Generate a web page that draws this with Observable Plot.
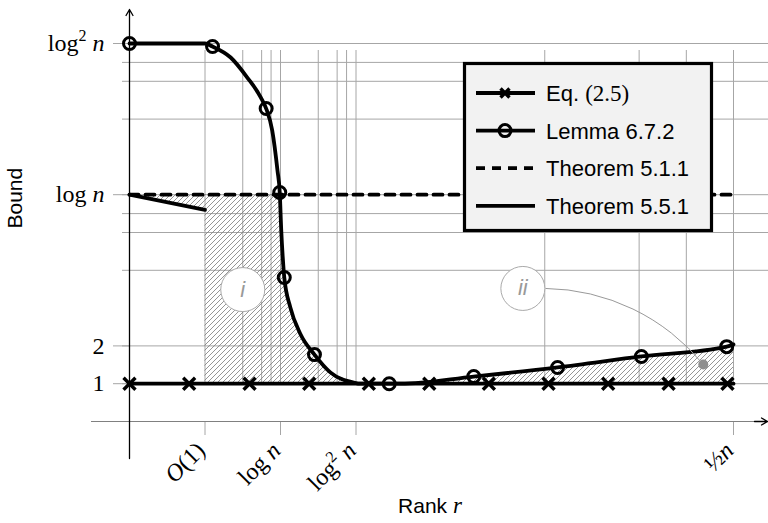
<!DOCTYPE html>
<html><head><meta charset="utf-8">
<script src="https://cdn.jsdelivr.net/npm/d3@7"></script>
<script src="https://cdn.jsdelivr.net/npm/@observablehq/plot@0.6"></script>
<style>body{margin:0;background:#fff;} #chart svg{display:block;}</style>
</head><body><div id="chart"></div>
<script>
// ---- data ----
const xGrid = [1, 1.5, 1.75, 1.875, 2, 2.5, 2.75, 2.875, 3, 5.5, 6.75, 7.375, 8];
const yGrid = [1, 2, 4, 5, 5.5, 6, 8, 9, 9.5, 10];
const xTicks = [1, 2, 3, 8];
const xTickLabels = ["O(1)", "log n", "log² n", "½n"];
const yTicks = [1, 2, 6, 10];
const yTickLabels = ["1", "2", "log n", "log² n"];

// Eq. (2.5)
const eqLineX = [0, 8];
const eqLineY = [1, 1];
const eqMarkX = [0, 0.79, 1.59, 2.38, 3.17, 3.97, 4.76, 5.55, 6.34, 7.14, 7.92];
const eqMarkY = [1, 1, 1, 1, 1, 1, 1, 1, 1, 1, 1];

// Lemma 6.7.2
const lemmaX = [0, 1.0, 1.10, 1.34, 1.56, 1.74, 1.81, 1.89, 1.96, 1.99, 2.01, 2.03, 2.05, 2.13, 2.26, 2.45, 2.66, 2.97, 3.06, 3.44, 3.59, 4.56, 5.67, 6.78, 7.91, 8.0];
const lemmaY = [10, 10, 9.92, 9.63, 9.10, 8.57, 8.28, 7.70, 6.64, 6.06, 5.05, 4.34, 3.81, 3.02, 2.33, 1.77, 1.30, 1.03, 1.0, 1.0, 1.0, 1.19, 1.43, 1.72, 1.98, 2.04];
const lemmaMarkX = [0, 1.10, 1.81, 1.99, 2.05, 2.45, 3.44, 4.56, 5.67, 6.78, 7.91];
const lemmaMarkY = [10, 9.92, 8.28, 6.06, 3.81, 1.77, 1.0, 1.19, 1.43, 1.72, 1.98];

// Theorem 5.1.1 (dashed)
const thm511X = [0, 8];
const thm511Y = [6, 6];
// Theorem 5.5.1 (solid)
const thm551X = [0, 1];
const thm551Y = [6, 5.6];

// annotations
const annX = [1.5, 5.21];
const annY = [3.49, 3.52];
const annLabels = ["i", "ii"];
const annDotX = [7.6];
const annDotY = [1.51];
const connX1 = [5.515], connY1 = [3.52];

// ---- build tables ----
const SERIF = "'Liberation Serif', 'DejaVu Serif', serif";
const SANS = "'Liberation Sans', 'DejaVu Sans', sans-serif";
const GRID = "#a6a6a6";
const LW = 3.8;

const pts = (xs, ys) => xs.map((x, i) => ({x, y: ys[i]}));
const lemma = pts(lemmaX, lemmaY);
const lemmaMarks = pts(lemmaMarkX, lemmaMarkY);
const eqLine = pts(eqLineX, eqLineY);
const eqMarks = pts(eqMarkX, eqMarkY);
const thm511 = pts(thm511X, thm511Y);
const thm551 = pts(thm551X, thm551Y);
const ann = annX.map((x, i) => ({x, y: annY[i], label: annLabels[i]}));
const annDot = pts(annDotX, annDotY);
const conn = [{x1: connX1[0], y1: connY1[0], x2: annDotX[0], y2: annDotY[0]}];

// hatched regions derived from the series
const regionA = thm551.map(d => ({x: d.x, y1: d.y, y2: thm511Y[0]}));
const regionB = [{x: thm551X[1], y1: 1, y2: thm511Y[0]}]
  .concat(lemma.filter(d => d.x >= 1.99 && d.x <= 3.06).map(d => ({x: d.x, y1: 1, y2: Math.min(thm511Y[0], d.y)})));
const regionC = lemma.filter(d => d.x >= 3.44).map(d => ({x: d.x, y1: 1, y2: d.y}));

const xTickData = xTicks.map((v, i) => ({v, label: xTickLabels[i]}));
const yTickData = yTicks.map((v, i) => ({v, label: yTickLabels[i]}));

const plot = Plot.plot({
  width: 768, height: 523,
  marginLeft: 91, marginRight: 0, marginTop: 0, marginBottom: 67,
  x: {domain: [0, 8], range: [129, 733], axis: null},
  y: {domain: [0, 10], range: [421, 43], axis: null},
  style: {background: "#fff", fontFamily: SERIF, fontSize: "22px", overflow: "visible", color: "#000"},
  marks: [
    // grid
    Plot.ruleY(yGrid, {x1: 0, x2: 8, insetLeft: -7, insetRight: -35, stroke: GRID, strokeWidth: 1}),
    Plot.ruleX(xGrid, {y1: 0, y2: 10, insetTop: -38, insetBottom: -7, stroke: GRID, strokeWidth: 1}),
    Plot.ruleY(yTicks, {x1: 0, x2: 0, insetLeft: -16, stroke: GRID}),
    Plot.ruleX(xTicks, {y1: 0, y2: 0, insetBottom: -14, stroke: GRID}),
    // hatched regions
    Plot.areaY(regionA, {x: "x", y1: "y1", y2: "y2", fill: "url(#hatch)"}),
    Plot.areaY(regionB, {x: "x", y1: "y1", y2: "y2", fill: "url(#hatch)"}),
    Plot.areaY(regionC, {x: "x", y1: "y1", y2: "y2", fill: "url(#hatch)"}),
    // axes
    Plot.ruleY([0], {x1: 0, x2: 8, insetLeft: -38, insetRight: -28, stroke: "#808080", strokeWidth: 1}),
    Plot.arrow([0], {x1: 0, x2: 8, y1: 0, y2: 0, insetStart: 625, insetEnd: -34, stroke: "#000", strokeWidth: 1.3, headLength: 8}),
    Plot.arrow([0], {x1: 0, x2: 0, y1: 0, y2: 10, insetStart: -37, insetEnd: -34, stroke: "#000", strokeWidth: 1.3, headLength: 8}),
    // series
    Plot.line(thm511, {x: "x", y: "y", stroke: "#000", strokeWidth: LW, strokeDasharray: "9,7"}),
    Plot.line(thm551, {x: "x", y: "y", stroke: "#000", strokeWidth: LW}),
    Plot.line(eqLine, {x: "x", y: "y", stroke: "#000", strokeWidth: LW}),
    Plot.line(lemma, {x: "x", y: "y", stroke: "#000", strokeWidth: LW, curve: "monotone-x"}),
    Plot.dot(eqMarks, {x: "x", y: "y", symbol: "times", r: 5.5, stroke: "#000", strokeWidth: 3.4}),
    Plot.dot(lemmaMarks, {x: "x", y: "y", r: 6, stroke: "#000", strokeWidth: 3, fill: "none"}),
    // annotations
    Plot.arrow(conn, {x1: "x1", y1: "y1", x2: "x2", y2: "y2", bend: 25, headLength: 0, stroke: "#999", strokeWidth: 1}),
    Plot.dot(ann, {x: "x", y: "y", r: 22, fill: "#fff", stroke: "#aaa", strokeWidth: 1}),
    Plot.text(ann, {x: "x", y: "y", text: "label", fill: "#999", fontStyle: "italic", fontFamily: SANS, fontSize: 22}),
    Plot.dot(annDot, {x: "x", y: "y", r: 5, fill: "#8f8f8f"}),
    // tick labels
    Plot.text(xTickData, {x: "v", y: 0, text: "label", rotate: -45, textAnchor: "end", dy: 25, dx: -4, fontFamily: SERIF, fontSize: 24}),
    Plot.text(yTickData, {x: 0, y: "v", text: "label", textAnchor: "end", dx: -25, fontFamily: SERIF, fontSize: 24}),
    // axis titles
    Plot.text(["Bound"], {frameAnchor: "left", text: d => d, rotate: -90, dx: -76, fontFamily: SANS, fontSize: 21}),
    Plot.text(["Rank r"], {frameAnchor: "bottom", text: d => d, dy: 56, fontFamily: SANS, fontSize: 21})
  ]
});

// hatch pattern
const svg = d3.select(plot);
const defs = svg.insert("defs", ":first-child");
const pat = defs.append("pattern").attr("id", "hatch").attr("patternUnits", "userSpaceOnUse").attr("width", 5).attr("height", 5);
pat.append("path").attr("d", "M-1,1L1,-1M0,5L5,0M4,6L6,4").attr("stroke", "#7a7a7a").attr("stroke-width", 0.8).attr("fill", "none");

// math formatting of labels
const mathMarkup = {
  "log n": 'log <tspan font-style="italic">n</tspan>',
  "log² n": 'log<tspan dy="-10" font-size="16">2</tspan><tspan dy="10" font-style="italic"> n</tspan>',
  "O(1)": '<tspan font-style="italic">O</tspan>(1)',
  "½n": '½<tspan font-style="italic">n</tspan>',
  "Rank r": 'Rank <tspan font-family="Liberation Serif" font-style="italic" font-size="23">r</tspan>'
};
plot.querySelectorAll("text").forEach(t => {
  const k = t.textContent;
  if (mathMarkup[k] && !t.querySelector("tspan")) t.innerHTML = mathMarkup[k];
});

// legend
const legendItems = [
  {label: 'Eq. <tspan font-family="Liberation Serif" font-size="23">(2.5)</tspan>', dash: null, mark: "x"},
  {label: "Lemma 6.7.2", dash: null, mark: "o"},
  {label: "Theorem 5.1.1", dash: "9,7", mark: null},
  {label: "Theorem 5.5.1", dash: null, mark: null}
];
const lg = svg.append("g").attr("class", "legend").attr("text-anchor", "start");
lg.append("rect").attr("x", 464.5).attr("y", 63.5).attr("width", 247).attr("height", 167)
  .attr("fill", "#f2f2f2").attr("stroke", "#000").attr("stroke-width", 3.2);
legendItems.forEach((it, i) => {
  const cy = 93 + i * 37.6;
  const l = lg.append("line").attr("x1", 476).attr("x2", 535).attr("y1", cy).attr("y2", cy)
    .attr("stroke", "#000").attr("stroke-width", LW);
  if (it.dash) l.attr("stroke-dasharray", it.dash);
  if (it.mark === "x") {
    lg.append("path").attr("d", `M${505-4.5},${cy-4.5}L${505+4.5},${cy+4.5}M${505-4.5},${cy+4.5}L${505+4.5},${cy-4.5}`)
      .attr("stroke", "#000").attr("stroke-width", 3.4);
  } else if (it.mark === "o") {
    lg.append("circle").attr("cx", 505).attr("cy", cy).attr("r", 6).attr("fill", "none")
      .attr("stroke", "#000").attr("stroke-width", 3);
  }
  lg.append("text").attr("x", 546).attr("y", cy + 8).attr("font-family", SANS).attr("font-size", 22)
    .attr("text-anchor", "start").attr("fill", "#000").html(it.label);
});

document.getElementById("chart").appendChild(plot);
</script>
</body></html>
